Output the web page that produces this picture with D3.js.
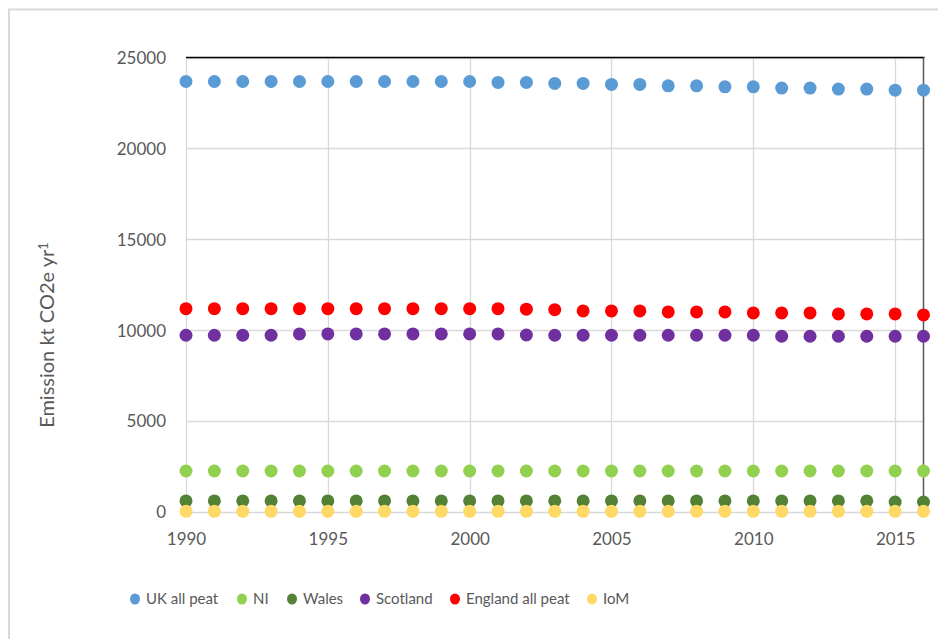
<!DOCTYPE html>
<html>
<head>
<meta charset="utf-8">
<script src="https://cdn.jsdelivr.net/npm/d3@7/dist/d3.min.js"></script>
<style>
  body { margin: 0; background: #fff; }
  svg text { font-family: Lato, "Open Sans", sans-serif; fill: #595959; }
</style>
</head>
<body>
<div id="chart"></div>
<script>
// years 1990 - 2016
const years = d3.range(1990, 2017);

const ukAllPeat = [23680, 23680, 23680, 23680, 23680, 23680, 23680, 23680, 23680, 23680, 23680,
  23625, 23625, 23570, 23570, 23515, 23515, 23440, 23440, 23385, 23385,
  23315, 23315, 23260, 23260, 23200, 23200];
const ni = [2230, 2230, 2230, 2230, 2230, 2230, 2230, 2230, 2230, 2230, 2230,
  2230, 2230, 2230, 2230, 2230, 2230, 2230, 2230, 2230, 2230,
  2230, 2230, 2230, 2230, 2230, 2230];
const wales = [580, 580, 580, 580, 580, 580, 580, 580, 580, 580, 580,
  580, 580, 580, 580, 580, 580, 580, 580, 580, 580,
  580, 580, 580, 580, 520, 520];
const scotland = [9705, 9705, 9705, 9705, 9780, 9780, 9780, 9780, 9780, 9780, 9780,
  9780, 9720, 9705, 9705, 9705, 9705, 9705, 9705, 9705, 9705,
  9650, 9650, 9650, 9650, 9650, 9650];
const englandAllPeat = [11170, 11170, 11170, 11170, 11170, 11170, 11170, 11170, 11170, 11170, 11170,
  11170, 11140, 11115, 11045, 11045, 11045, 10990, 10990, 10990, 10935,
  10935, 10935, 10880, 10880, 10880, 10825];
const iom = [10, 10, 10, 10, 10, 10, 10, 10, 10, 10, 10,
  10, 10, 10, 10, 10, 10, 10, 10, 10, 10,
  10, 10, 10, 10, 10, 10];

const seriesNames = ['UK all peat', 'NI', 'Wales', 'Scotland', 'England all peat', 'IoM'];
const seriesColors = ['#5b9bd5', '#92d050', '#538135', '#7030a0', '#ff0000', '#ffd966'];
const seriesValues = [ukAllPeat, ni, wales, scotland, englandAllPeat, iom];

const xTicks = [1990, 1995, 2000, 2005, 2010, 2015];
const yTicks = [0, 5000, 10000, 15000, 20000, 25000];

let config = {
  width: 947,
  height: 639,
  plot: { left: 186, right: 923.5, top: 57.5, bottom: 511.5 }
};

let svg = d3.select('#chart')
  .append('svg')
  .attr('width', config.width)
  .attr('height', config.height);

// outer chart frame (only top + left edges are visible)
svg.append('path')
  .attr('d', 'M9,640 L9,9.5 L938,9.5')
  .attr('fill', 'none')
  .attr('stroke', '#d9d9d9')
  .attr('stroke-width', 2);

let xscale = d3.scaleLinear()
  .domain([1990, 2016])
  .range([config.plot.left, config.plot.right]);

let yscale = d3.scaleLinear()
  .domain([0, 25000])
  .range([config.plot.bottom, config.plot.top]);

// gridlines
svg.append('g')
  .selectAll('line')
  .data(yTicks)
  .enter()
  .append('line')
  .attr('x1', config.plot.left)
  .attr('x2', config.plot.right)
  .attr('y1', d => Math.round(yscale(d)) + 0.5)
  .attr('y2', d => Math.round(yscale(d)) + 0.5)
  .attr('stroke', '#d9d9d9')
  .attr('stroke-width', 1.3);

svg.append('g')
  .selectAll('line')
  .data(xTicks)
  .enter()
  .append('line')
  .attr('x1', d => Math.round(xscale(d)) + 0.5)
  .attr('x2', d => Math.round(xscale(d)) + 0.5)
  .attr('y1', config.plot.top)
  .attr('y2', config.plot.bottom)
  .attr('stroke', '#d9d9d9')
  .attr('stroke-width', 1.3);

// top and right border (secondary axes)
svg.append('line')
  .attr('x1', config.plot.left)
  .attr('x2', config.plot.right + 1)
  .attr('y1', config.plot.top)
  .attr('y2', config.plot.top)
  .attr('stroke', '#000')
  .attr('stroke-width', 1.5);

svg.append('line')
  .attr('x1', config.plot.right)
  .attr('x2', config.plot.right)
  .attr('y1', config.plot.top)
  .attr('y2', config.plot.bottom)
  .attr('stroke', '#595959')
  .attr('stroke-width', 1.5);

// axes, drawn with d3 axis then stripped of lines
let leftAxis = d3.axisLeft(yscale)
  .tickValues(yTicks)
  .tickFormat(d3.format('d'))
  .tickSize(0)
  .tickPadding(20);

let yaxis = svg.append('g')
  .attr('transform', `translate(${config.plot.left}, 0)`)
  .call(leftAxis);
yaxis.select('.domain').remove();
yaxis.selectAll('text')
  .attr('font-family', null)
  .style('font-size', '17px')
  .attr('dy', '0.36em');

let bottomAxis = d3.axisBottom(xscale)
  .tickValues(xTicks)
  .tickFormat(d3.format('d'))
  .tickSize(0)
  .tickPadding(21);

let xaxis = svg.append('g')
  .attr('transform', `translate(0, ${config.plot.bottom})`)
  .call(bottomAxis);
xaxis.select('.domain').remove();
xaxis.selectAll('text')
  .attr('font-family', null)
  .style('font-size', '17px');

// y axis title
let ytitle = svg.append('text')
  .attr('transform', 'translate(54, 335) rotate(-90)')
  .attr('text-anchor', 'middle')
  .style('font-size', '20px');
ytitle.append('tspan').text('Emission kt CO2e yr');
ytitle.append('tspan')
  .attr('dy', '-0.5em')
  .style('font-size', '13px')
  .text('1');

// points
let groups = svg.selectAll('.series')
  .data(seriesValues)
  .enter()
  .append('g')
  .attr('class', 'series')
  .style('fill', (d, i) => seriesColors[i]);

groups.selectAll('circle')
  .data(d => d.map((v, j) => ({ year: years[j], value: v })))
  .enter()
  .append('circle')
  .attr('cx', d => xscale(d.year))
  .attr('cy', d => yscale(d.value))
  .attr('r', 6.5);

// legend
let legendX = [135, 242, 292, 365, 455, 592];
let legend = svg.selectAll('.legend')
  .data(seriesNames)
  .enter()
  .append('g')
  .attr('class', 'legend')
  .attr('transform', (d, i) => `translate(${legendX[i]}, 599)`);

legend.append('ellipse')
  .attr('rx', 5)
  .attr('ry', 5.5)
  .style('fill', (d, i) => seriesColors[i]);

legend.append('text')
  .attr('x', 11)
  .attr('dy', '0.36em')
  .style('font-size', '15px')
  .text(d => d);
</script>
</body>
</html>
